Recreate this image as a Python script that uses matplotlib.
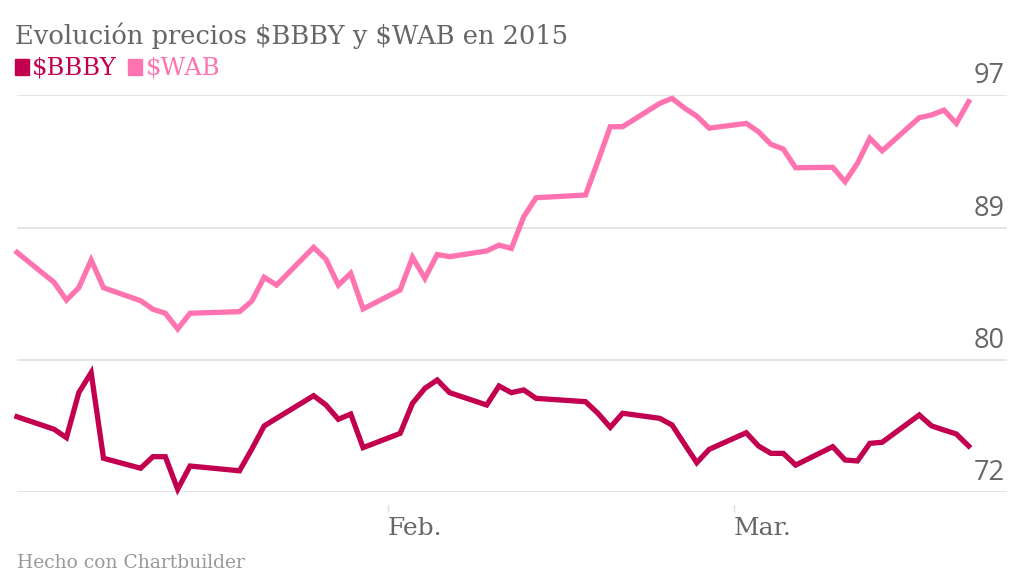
import matplotlib.pyplot as plt
import matplotlib.dates as mdates
import matplotlib.transforms as mtransforms
from matplotlib.patches import Rectangle
import pandas as pd

# trading days shown in the chart
dias = (
    ["2015-01-%02d" % d for d in [2, 5, 6, 7, 8, 9, 12, 13, 14, 15, 16, 20, 21, 22, 23, 26, 27, 28, 29, 30]]
    + ["2015-02-%02d" % d for d in [2, 3, 4, 5, 6, 9, 10, 11, 12, 13, 17, 18, 19, 20, 23, 24, 25, 26, 27]]
    + ["2015-03-%02d" % d for d in [2, 3, 4, 5, 6, 9, 10, 11, 12, 13, 16, 17, 18, 19, 20]]
)
fechas = pd.to_datetime(dias)

bbby = [76.73, 75.94, 75.41, 78.25, 79.51, 74.11, 73.48, 74.21, 74.21, 72.15,
        73.62, 73.32, 74.69, 76.15, 76.63, 78.06, 77.47, 76.57, 76.90, 74.78,
        75.68, 77.58, 78.52, 79.05, 78.25, 77.47, 78.67, 78.25, 78.42, 77.89,
        77.68, 76.95, 76.06, 76.95, 76.63, 76.21, 75.01, 73.83, 74.67,
        75.72, 74.88, 74.42, 74.42, 73.68, 74.84, 74.00, 73.94, 75.05, 75.12,
        76.84, 76.15, 75.89, 75.64, 74.88]

wab = [87.10, 85.21, 84.09, 84.87, 86.62, 84.87, 84.05, 83.51, 83.26, 82.27,
       83.26, 83.36, 84.03, 85.53, 85.04, 87.42, 86.66, 85.04, 85.78, 83.53,
       84.73, 86.79, 85.46, 86.97, 86.83, 87.19, 87.56, 87.35, 89.35, 90.55,
       90.72, 92.85, 95.03, 95.03, 96.50, 96.82, 96.21, 95.70, 94.94,
       95.24, 94.71, 93.92, 93.62, 92.44, 92.47, 91.56, 92.72, 94.30, 93.51,
       95.60, 95.77, 96.08, 95.24, 96.61]

ytick_vals = [72, 80.333, 88.667, 97]
ytick_labels = ["72", "80", "89", "97"]
xtick_fechas = pd.to_datetime(["2015-02-01", "2015-03-01"])
xtick_labels = ["Feb.", "Mar."]

c_bbby = "#c2004f"
c_wab = "#ff73b0"
gris = "#666666"
serif = ["DejaVu Serif"]

fig = plt.figure(figsize=(10.24, 5.77), dpi=100)
W, H = 1024, 577
ax = fig.add_axes([17 / W, 1 - 491.7 / H, (1007 - 17) / W, (491.7 - 95.5) / H])

ax.plot(fechas, wab, color=c_wab, lw=3.8, solid_joinstyle="miter", clip_on=False, zorder=3)
ax.plot(fechas, bbby, color=c_bbby, lw=3.8, solid_joinstyle="miter", clip_on=False, zorder=3)

ax.set_ylim(72, 97)
ax.set_xlim(pd.Timestamp("2015-01-02"), pd.Timestamp("2015-03-20") + pd.Timedelta(days=3.1))

for s in ax.spines.values():
    s.set_visible(False)
ax.set_yticks([])

# y labels sit just above their gridlines on the right
subir = mtransforms.ScaledTranslation(0, 5 / 100, fig.dpi_scale_trans)
for v, lab in zip(ytick_vals, ytick_labels):
    ax.axhline(v, color="#e3e3e3", lw=1.3, zorder=1)
    ax.text(0.998, v, lab, transform=ax.get_yaxis_transform() + subir, ha="right", va="bottom",
            fontsize=19.5, color=gris, family=["Open Sans", "DejaVu Sans"])

ax.spines["bottom"].set_position(("outward", 9.5))
ax.set_xticks(mdates.date2num(xtick_fechas))
ax.set_xticklabels(xtick_labels, fontsize=18, color=gris, family=serif)
ax.tick_params(axis="x", length=5, width=1, color="#dddddd", pad=4)
for lab in ax.get_xticklabels():
    lab.set_ha("left")

fig.text(15 / W, 1 - 44 / H, r"Evolución precios \$BBBY y \$WAB en 2015", fontsize=18.5,
         color=gris, family=serif, va="baseline")
fig.patches.append(Rectangle((15 / W, 1 - 75 / H), 14 / W, 16 / H, transform=fig.transFigure,
                             color=c_bbby))
fig.text(32 / W, 1 - 75 / H, r"\$BBBY", fontsize=17.5, color=c_bbby, family=serif, va="baseline")
fig.patches.append(Rectangle((128 / W, 1 - 75 / H), 14 / W, 16 / H, transform=fig.transFigure,
                             color=c_wab))
fig.text(146 / W, 1 - 75 / H, r"\$WAB", fontsize=17.5, color=c_wab, family=serif, va="baseline")
fig.text(17 / W, 1 - 568 / H, "Hecho con Chartbuilder", fontsize=13.5, color="#999999",
         family=serif, va="baseline")

fig.savefig("out.png", dpi=100)
